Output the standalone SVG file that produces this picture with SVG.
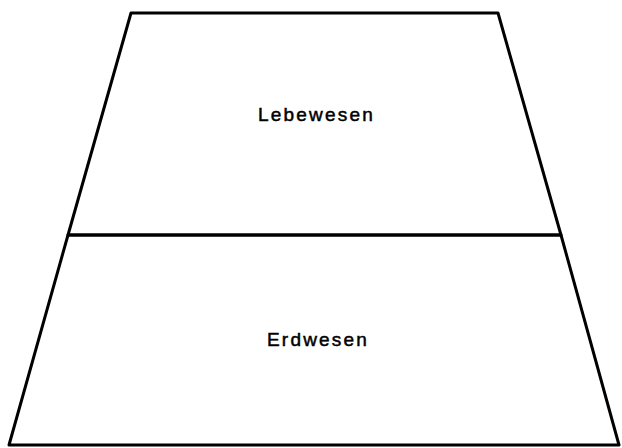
<svg xmlns="http://www.w3.org/2000/svg" width="622" height="448" viewBox="0 0 622 448">
<style>
.edge{fill:none;stroke:#000;stroke-width:3;stroke-linejoin:round;stroke-linecap:round}
.lbl{font-family:"Liberation Sans",Arial,sans-serif;font-size:19px;fill:#000;stroke:#000;stroke-width:0.5px;letter-spacing:2.2px}
</style>
<rect width="622" height="448" fill="#fff"/>
<g id="lebewesen">
<polygon class="edge" points="131,13 498,13 561,235 68,235"/>
<text class="lbl" x="258" y="121">Lebewesen</text>
</g>
<g id="erdwesen">
<polygon class="edge" points="68,235 561,235 619,445 9,445"/>
<text class="lbl" x="267" y="346">Erdwesen</text>
</g>
<g id="connectors"></g>
</svg>
